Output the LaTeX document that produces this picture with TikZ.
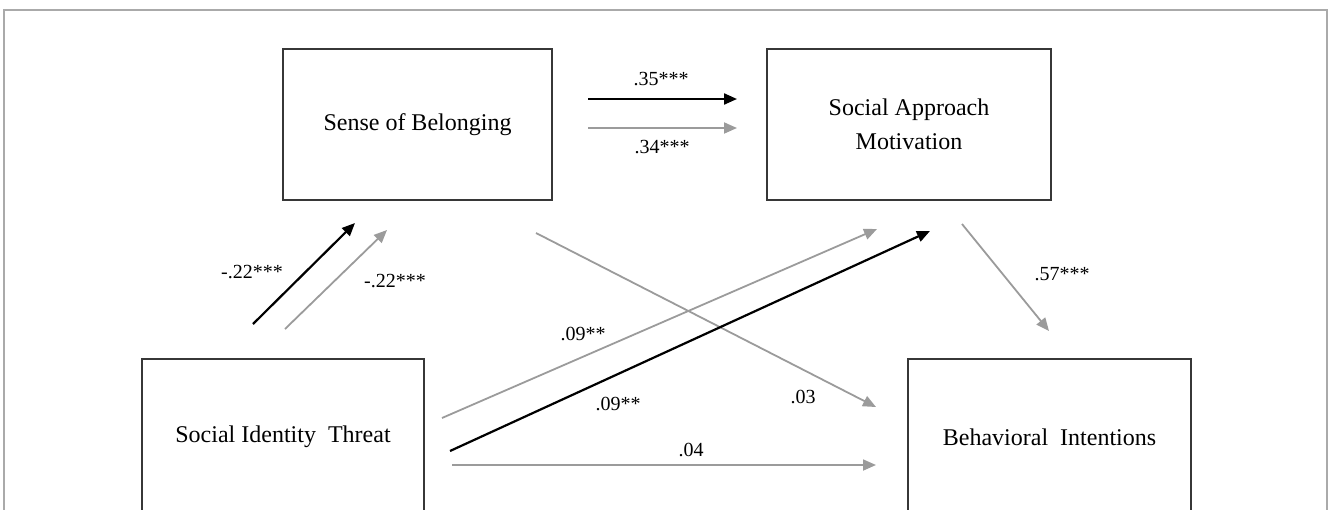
\documentclass[tikz,border=0pt]{standalone}
\usepackage{fontspec}
\setmainfont{Liberation Serif}
\usetikzlibrary{arrows.meta}
\definecolor{lgray}{RGB}{155,155,155}
\definecolor{bordergray}{RGB}{55,55,55}
\definecolor{framegray}{RGB}{170,170,170}
\begin{document}
\begin{tikzpicture}[x=0.5pt,y=-0.5pt,
  varbox/.style={draw=bordergray, line width=1pt, inner sep=0pt, align=center, font=\fontsize{12}{17}\selectfont},
  blackpath/.style={draw=black, line width=1.1pt, -{Triangle[length=6.5pt,width=5.5pt]}},
  graypath/.style={draw=lgray, line width=0.9pt, -{Triangle[length=6.5pt,width=5.5pt]}},
  coef/.style={font=\fontsize{10}{12}\selectfont, inner sep=0pt}]
\useasboundingbox (0,0) rectangle (1328,509);
\clip (0,0) rectangle (1328,509);
\draw[framegray, line width=0.6pt] (4,520) -- (4,10) -- (1327,10) -- (1327,520);
% boxes
\node[varbox, minimum width=134.5pt, minimum height=75.5pt] (sob) at (417.5,124.5) {Sense of Belonging};
\node[varbox, minimum width=142pt, minimum height=75.5pt] (sam) at (909,124.5) {Social Approach\\Motivation};
\node[varbox, minimum width=141pt, minimum height=78pt] (sit) at (283,437) {Social Identity\ \ Threat};
\node[varbox, minimum width=141.5pt, minimum height=78pt] (bi) at (1049.5,437) {Behavioral\ \ Intentions};
% connector end points
\coordinate (a1s) at (588,99);  \coordinate (a1e) at (737,99);
\coordinate (a2s) at (588,128); \coordinate (a2e) at (737,128);
\coordinate (b1s) at (253,324); \coordinate (b1e) at (355,223);
\coordinate (b2s) at (285,329); \coordinate (b2e) at (387,230);
\coordinate (c1s) at (536,233); \coordinate (c1e) at (876,407);
\coordinate (d1s) at (442,418); \coordinate (d1e) at (877,229);
\coordinate (d2s) at (450,451); \coordinate (d2e) at (930,231);
\coordinate (e1s) at (452,465); \coordinate (e1e) at (876,465);
\coordinate (f1s) at (962,224); \coordinate (f1e) at (1049,331);
% connectors
\draw[blackpath] (a1s) -- (a1e);
\draw[graypath] (a2s) -- (a2e);
\draw[blackpath] (b1s) -- (b1e);
\draw[graypath] (b2s) -- (b2e);
\draw[graypath] (c1s) -- (c1e);
\draw[graypath] (d1s) -- (d1e);
\draw[blackpath] (d2s) -- (d2e);
\draw[graypath] (e1s) -- (e1e);
\draw[graypath] (f1s) -- (f1e);
% labels
\node[coef] (l35) at (661,79) {.35***};
\node[coef] (l34) at (662,147) {.34***};
\node[coef] (l22a) at (252,272) {-.22***};
\node[coef] (l22b) at (395,281) {-.22***};
\node[coef] (l09a) at (583,334) {.09**};
\node[coef] (l09b) at (618,404) {.09**};
\node[coef] (l04) at (691,450) {.04};
\node[coef] (l03) at (803,397) {.03};
\node[coef] (l57) at (1062,274) {.57***};
\end{tikzpicture}
\end{document}
